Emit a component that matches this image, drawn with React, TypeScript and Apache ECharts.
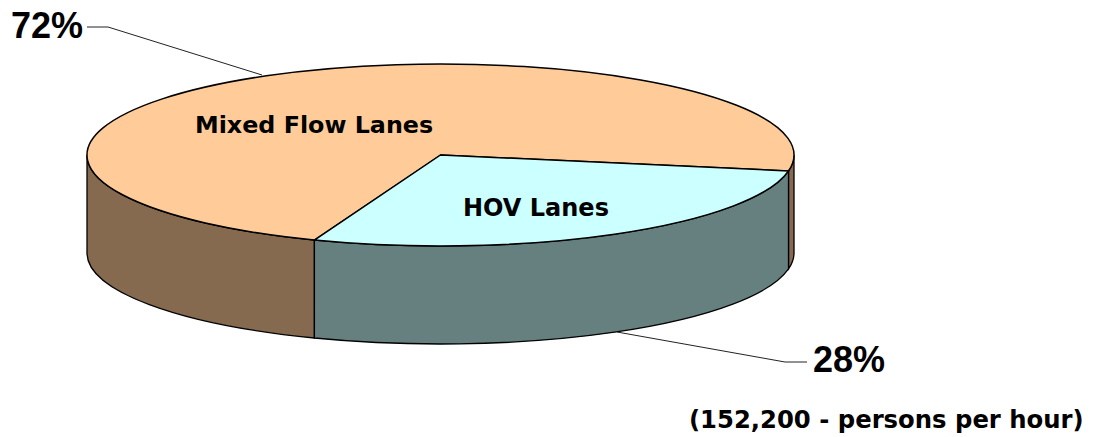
import React, { useEffect, useRef } from "react";
import * as echarts from "echarts";

const sliceNames = ["Mixed Flow Lanes", "HOV Lanes"];
const sliceShares = [72, 28];
const topColors = ["#FFCC99", "#CCFFFF"];
const wallColors = ["#866A50", "#667F7F"];
const percentLabels = ["72%", "28%"];
const footnote = "(152,200 - persons per hour)";

const CX = 440.5, CY = 155, RX = 353.5, RY = 91, DEPTH = 98;
const HOV_END_DEG = 110.9; // clockwise on screen from east

const rad = (d: number) => (d * Math.PI) / 180;
const pt = (d: number, dy = 0) => [CX + RX * Math.cos(rad(d)), CY + dy + RY * Math.sin(rad(d))];
const arcTo = (from: number, to: number, dy = 0, sweep = 1) => {
  const p = pt(to, dy);
  return `A${RX} ${RY} 0 ${Math.abs(to - from) > 180 ? 1 : 0} ${sweep} ${p[0]} ${p[1]}`;
};

function wallPath(a0: number, a1: number) {
  const p0 = pt(a0), p1b = pt(a1, DEPTH);
  return `M${p0[0]} ${p0[1]}${arcTo(a0, a1)}L${p1b[0]} ${p1b[1]}${arcTo(a1, a0, DEPTH, 0)}Z`;
}

function renderSlice(params: any, api: any) {
  const i = params.dataIndex;
  const share = api.value(0) as number;
  const sweep = (share / 100) * 360;
  const isHov = i === 1;
  const a1 = isHov ? HOV_END_DEG : HOV_END_DEG + sweep;
  const a0 = a1 - sweep;
  const p0 = pt(a0);
  const ranges: [number, number][] = isHov ? [[a0, a1]] : [[a0, 180], [360, a1]];
  const wallStyle = { fill: wallColors[i], stroke: "#000", lineWidth: 1.3 };
  const children: any[] = ranges.map(([s, e]) => ({
    type: "path",
    shape: { pathData: wallPath(s, e) },
    style: wallStyle,
  }));
  children.push({
    type: "path",
    shape: { pathData: `M${CX} ${CY}L${p0[0]} ${p0[1]}${arcTo(a0, a1)}Z` },
    style: { fill: topColors[i], stroke: "#000", lineWidth: 1.5, lineJoin: "round" },
  });
  return { type: "group", children };
}

const pctStyle = { fontFamily: "Liberation Sans", fontWeight: "bold", fontSize: 36, fill: "#000" };
const nameStyle = { fontFamily: "DejaVu Sans", fontWeight: "bold", fontSize: 24, fill: "#000" };

export default function App() {
  const ref = useRef<HTMLDivElement>(null);
  useEffect(() => {
    const chart = echarts.init(ref.current!, null, { renderer: "svg" });
    chart.setOption({
      animation: false,
      backgroundColor: "#fff",
      series: [
        {
          type: "custom",
          coordinateSystem: "none",
          silent: true,
          renderItem: renderSlice,
          data: sliceNames.map((name, i) => ({ name, value: [sliceShares[i]] })),
        },
      ],
      graphic: [
        { type: "polyline", z: 10, shape: { points: [[87, 27], [108, 27], [262, 75]] }, style: { fill: "none", stroke: "#222", lineWidth: 1 } },
        { type: "polyline", z: 10, shape: { points: [[617, 332], [785, 362], [807, 362]] }, style: { fill: "none", stroke: "#222", lineWidth: 1 } },
        { type: "text", z: 10, x: 11, y: 7, style: { ...pctStyle, text: percentLabels[0] } },
        { type: "text", z: 10, x: 813, y: 341, style: { ...pctStyle, text: percentLabels[1] } },
        { type: "text", z: 10, x: 195, y: 113, style: { ...nameStyle, fontSize: 23.8, text: sliceNames[0] } },
        { type: "text", z: 10, x: 463, y: 196, style: { ...nameStyle, text: sliceNames[1] } },
        { type: "text", z: 10, x: 689, y: 407, style: { ...nameStyle, fontSize: 24.3, text: footnote } },
      ],
    });
    return () => chart.dispose();
  }, []);
  return <div ref={ref} style={{ position: "fixed", left: 0, top: 0, width: 1095, height: 437 }} />;
}
